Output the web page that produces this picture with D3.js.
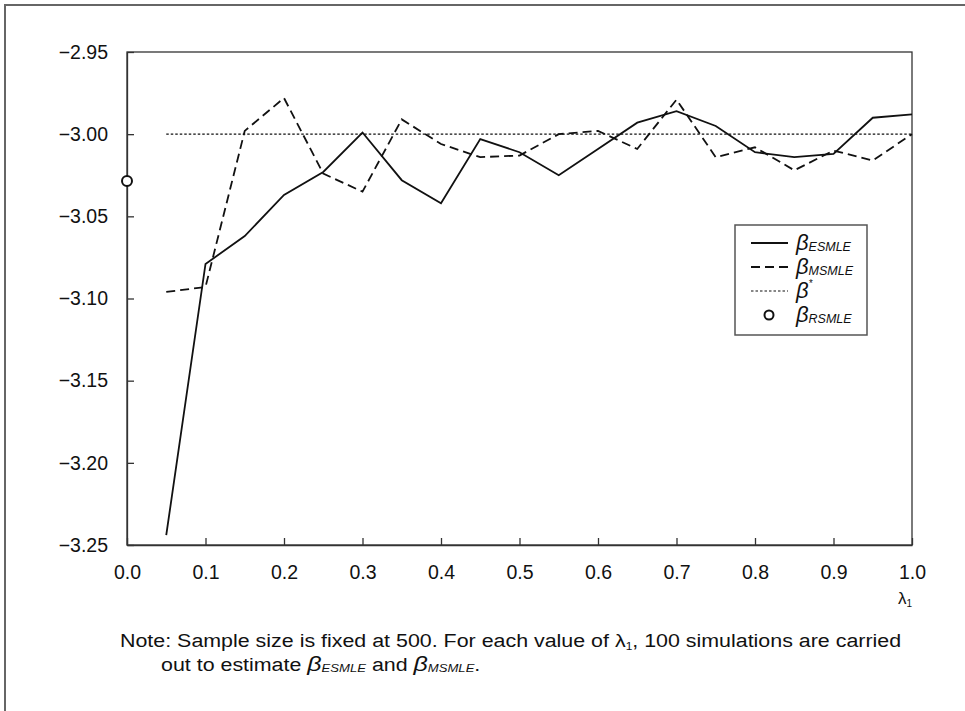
<!DOCTYPE html>
<html>
<head>
<meta charset="utf-8">
<script src="https://cdn.jsdelivr.net/npm/d3@7"></script>
<style>
  html, body { margin: 0; padding: 0; background: #fff; }
  svg { display: block; font-family: "Liberation Sans", Arial, Helvetica, sans-serif; }
</style>
</head>
<body>
<svg id="chart" width="965" height="711"></svg>
<script>
// λ1 grid of the simulation runs
const lambdas = [0.05, 0.10, 0.15, 0.20, 0.25, 0.30, 0.35, 0.40, 0.45, 0.50,
                 0.55, 0.60, 0.65, 0.70, 0.75, 0.80, 0.85, 0.90, 0.95, 1.00];
// mean estimates of β for each λ1
const betaESMLE = [-3.244, -3.079, -3.062, -3.037, -3.023, -2.999, -3.028, -3.042, -3.003, -3.011,
                   -3.025, -3.009, -2.993, -2.986, -2.995, -3.011, -3.014, -3.012, -2.990, -2.988];
const betaMSMLE = [-3.096, -3.093, -2.998, -2.978, -3.024, -3.035, -2.991, -3.006, -3.014, -3.013,
                   -3.000, -2.998, -3.009, -2.979, -3.014, -3.008, -3.022, -3.010, -3.016, -3.000];
const betaTrue = -3.00;
const betaRSMLE = { lambda: 0.0, value: -3.0285 };
const xTicks = [0.0, 0.1, 0.2, 0.3, 0.4, 0.5, 0.6, 0.7, 0.8, 0.9, 1.0];
const yTicks = [-2.95, -3.00, -3.05, -3.10, -3.15, -3.20, -3.25];

const svg = d3.select("#chart");
const plotL = 127, plotR = 912, plotT = 52, plotB = 545;

const x = d3.scaleLinear().domain([0, 1]).range([plotL, plotR]);
const y = d3.scaleLinear().domain([-3.25, -2.95]).range([plotB, plotT]);

// outer frame (top and left edges)
svg.append("path")
  .attr("d", "M5,711 L5,5 L965,5")
  .attr("fill", "none").attr("stroke", "#666").attr("stroke-width", 2);

// plot box
svg.append("rect")
  .attr("x", plotL).attr("y", plotT)
  .attr("width", plotR - plotL).attr("height", plotB - plotT)
  .attr("fill", "none").attr("stroke", "#333").attr("stroke-width", 1.3);

const fmtY = d => d3.format(".2f")(d).replace("-", "\u2013");

const yAxis = svg.append("g").attr("transform", `translate(${plotL},0)`)
  .call(d3.axisLeft(y).tickValues(yTicks).tickFormat(fmtY)
    .tickSizeInner(-7).tickSizeOuter(0).tickPadding(19));
const xAxis = svg.append("g").attr("transform", `translate(0,${plotB})`)
  .call(d3.axisBottom(x).tickValues(xTicks).tickFormat(d3.format(".1f"))
    .tickSizeInner(-7).tickSizeOuter(0).tickPadding(20));

[yAxis, xAxis].forEach(g => {
  g.select(".domain").attr("stroke", "#333").attr("stroke-width", 1.3);
  g.selectAll(".tick line").attr("stroke", "#333").attr("stroke-width", 1.3);
  g.selectAll(".tick text").attr("fill", "#111")
    .style("font-size", "19.5px").style("font-family", "'Liberation Sans', Arial, sans-serif");
});

// axis title λ1
const xt = svg.append("text").attr("x", plotR).attr("y", 604)
  .attr("text-anchor", "end").attr("fill", "#111").style("font-size", "17px");
xt.append("tspan").text("\u03bb");
xt.append("tspan").attr("dy", 3).style("font-size", "10px").text("1");

// series
const line = d3.line().x(d => x(d[0])).y(d => y(d[1]));

svg.append("path")
  .datum(lambdas.map(l => [l, betaTrue]))
  .attr("d", line).attr("fill", "none")
  .attr("stroke", "#111").attr("stroke-width", 1.2).attr("stroke-dasharray", "2.5,2");

svg.append("path")
  .datum(lambdas.map((l, i) => [l, betaMSMLE[i]]))
  .attr("d", line).attr("fill", "none")
  .attr("stroke", "#111").attr("stroke-width", 1.8).attr("stroke-dasharray", "9,5");

svg.append("path")
  .datum(lambdas.map((l, i) => [l, betaESMLE[i]]))
  .attr("d", line).attr("fill", "none")
  .attr("stroke", "#111").attr("stroke-width", 1.8);

svg.append("circle")
  .attr("cx", x(betaRSMLE.lambda)).attr("cy", y(betaRSMLE.value)).attr("r", 5)
  .attr("fill", "#fff").attr("stroke", "#111").attr("stroke-width", 2);

// legend
const lg = svg.append("g");
lg.append("rect").attr("x", 735).attr("y", 225).attr("width", 132).attr("height", 110)
  .attr("fill", "#fff").attr("stroke", "#555").attr("stroke-width", 1.5);

const legendItems = [
  { sub: "ESMLE", kind: "solid" },
  { sub: "MSMLE", kind: "dash" },
  { sup: "*", kind: "dot" },
  { sub: "RSMLE", kind: "circle" }
];
legendItems.forEach((it, i) => {
  const cy = 243 + i * 24;
  if (it.kind === "circle") {
    lg.append("circle").attr("cx", 769).attr("cy", cy).attr("r", 4.5)
      .attr("fill", "#fff").attr("stroke", "#111").attr("stroke-width", 2);
  } else {
    lg.append("line").attr("x1", 751).attr("x2", 788).attr("y1", cy).attr("y2", cy)
      .attr("stroke", "#111")
      .attr("stroke-width", it.kind === "dot" ? 1.2 : 1.8)
      .attr("stroke-dasharray", it.kind === "dash" ? "9,5" : it.kind === "dot" ? "2.5,2" : null);
  }
  const t = lg.append("text").attr("x", 796).attr("y", cy + 7)
    .attr("fill", "#111").style("font-style", "italic").style("font-size", "22px");
  t.append("tspan").text("\u03b2");
  if (it.sub) t.append("tspan").attr("dy", 1).style("font-size", "12.5px").text(it.sub);
  if (it.sup) t.append("tspan").attr("dy", -11).style("font-size", "10px").text(it.sup);
});

// note below the chart
const note = svg.append("g").attr("fill", "#111").style("font-size", "18px");
const n1 = note.append("text").attr("x", 120).attr("y", 647);
n1.append("tspan").text("Note: Sample size is fixed at 500. For each value of \u03bb");
n1.append("tspan").attr("dy", 3).style("font-size", "10px").text("1");
n1.append("tspan").attr("dy", -3).text(", 100 simulations are carried");

const n2 = note.append("text").attr("x", 161).attr("y", 671);
n2.append("tspan").text("out to estimate ");
n2.append("tspan").style("font-style", "italic").style("font-size", "21px").text("\u03b2");
n2.append("tspan").attr("dy", 1).style("font-style", "italic").style("font-size", "11px").text("ESMLE");
n2.append("tspan").attr("dy", -1).text(" and ");
n2.append("tspan").style("font-style", "italic").style("font-size", "21px").text("\u03b2");
n2.append("tspan").attr("dy", 1).style("font-style", "italic").style("font-size", "11px").text("MSMLE");
n2.append("tspan").attr("dy", -1).text(".");

// fit the first note line to its set width
const w1 = n1.node().getComputedTextLength();
if (w1 > 0) {
  const s = 782 / w1;
  n1.attr("transform", `translate(120,0) scale(${s},1) translate(-120,0)`);
  n2.attr("transform", `translate(161,0) scale(${s},1) translate(-161,0)`);
}
</script>
</body>
</html>
